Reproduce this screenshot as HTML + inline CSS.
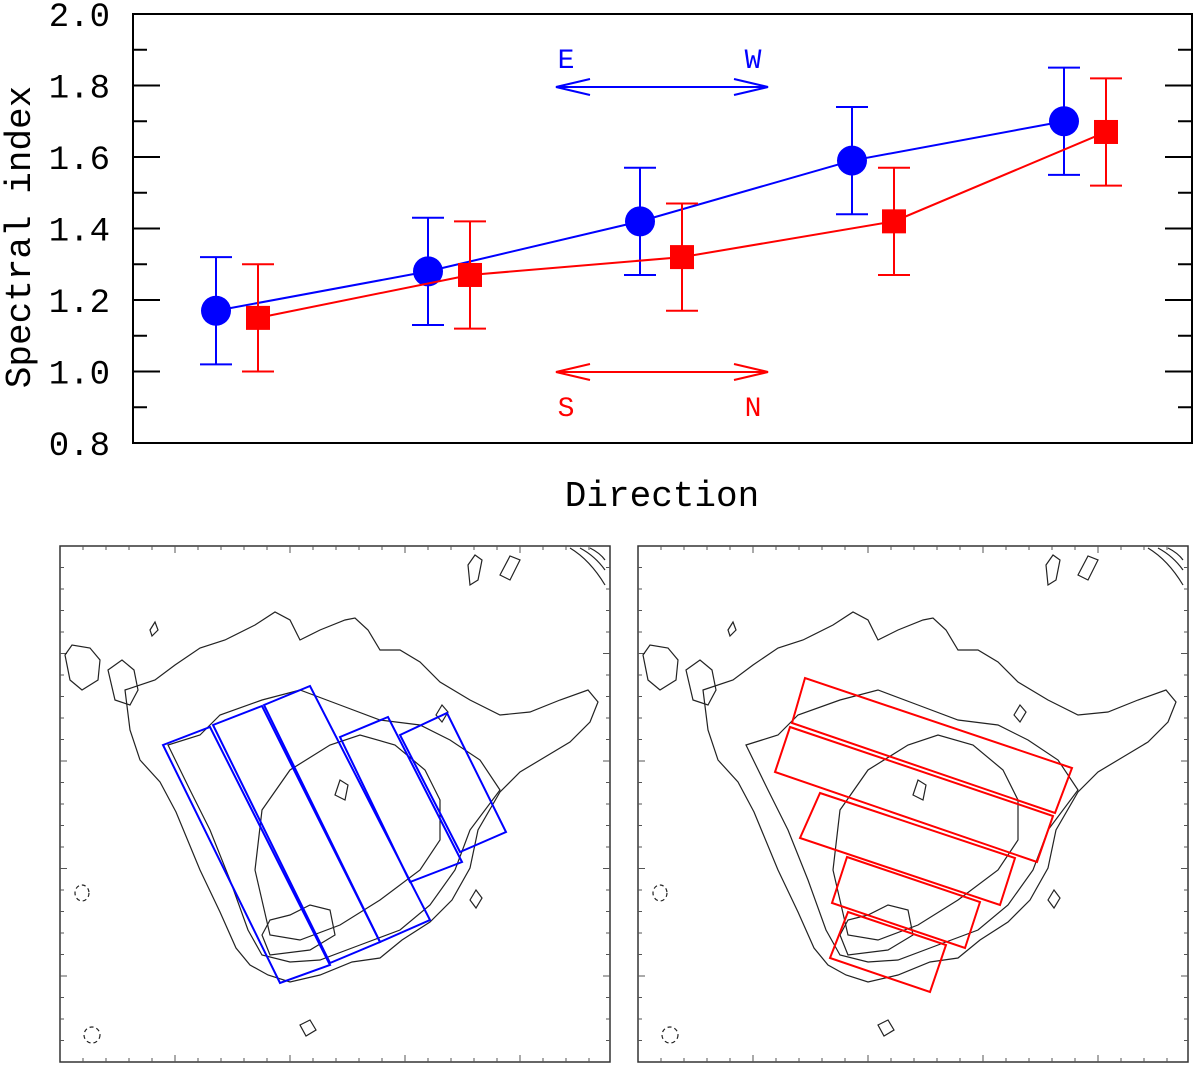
<!DOCTYPE html>
<html><head><meta charset="utf-8"><style>
html,body{margin:0;padding:0;background:#fff;}
svg{display:block;}
</style></head><body>
<svg id="chart" width="1200" height="1069" viewBox="0 0 1200 1069" xmlns="http://www.w3.org/2000/svg">
<g id="topChart"></g>
<g id="bottomPanels"></g>
</svg>
<script>
const categories = ["1","2","3","4","5"];
const blueValues = [1.17,1.28,1.42,1.59,1.70];
const blueErrors = [0.15,0.15,0.15,0.15,0.15];
const redValues = [1.15,1.27,1.32,1.42,1.67];
const redErrors = [0.15,0.15,0.15,0.15,0.15];
const yTicks = ["0.8","1.0","1.2","1.4","1.6","1.8","2.0"];

const NS="http://www.w3.org/2000/svg";
const X0=133,X1=1192,Y0=14,Y1=443,YMIN=0.8,YMAX=2.0;
const FONT='Liberation Mono, monospace';
function yScale(v){return Y1-(v-YMIN)/(YMAX-YMIN)*(Y1-Y0);}
function xScale(i,off){return 216+i*212+off;}
function el(tag,attrs,parent){const e=document.createElementNS(NS,tag);for(const k in attrs)e.setAttribute(k,attrs[k]);parent.appendChild(e);return e;}
const topG=document.getElementById('topChart');

const frame=el('rect',{x:X0,y:Y0,width:X1-X0,height:Y1-Y0,fill:'none',stroke:'#000','stroke-width':2},topG);


for(let k=0;k<=12;k++){
  const v=0.8+k*0.1;
  const y=yScale(v);const major=k%2===0;const L=major?27:14;
  const t1=el('line',{x1:X0,x2:X0+L,y1:y,y2:y,stroke:'#000','stroke-width':2},topG);
  
  
  const t2=el('line',{x1:X1-L,x2:X1,y1:y,y2:y,stroke:'#000','stroke-width':2},topG);
  
  
}
yTicks.forEach(t=>{
  const tx=el('text',{x:110,y:yScale(parseFloat(t))+12,'text-anchor':'end','font-family':FONT,'font-size':34},topG);
  tx.textContent=t;
  
  
});
const yl=el('text',{x:0,y:0,transform:'translate(30,237) rotate(-90)','text-anchor':'middle','font-family':FONT,'font-size':36},topG);
yl.textContent='Spectral index';


const xl=el('text',{x:662,y:506,'text-anchor':'middle','font-family':FONT,'font-size':36},topG);
xl.textContent='Direction';



function series(vals,errs,off,color,shape,name){
  const pts=vals.map((v,i)=>xScale(i,off)+','+yScale(v)).join(' ');
  const pl=el('polyline',{points:pts,fill:'none',stroke:color,'stroke-width':2},topG);
  
  
  vals.forEach((v,i)=>{
    const x=xScale(i,off),yt=yScale(v+errs[i]),yb=yScale(v-errs[i]);
    const g=el('g',{},topG);
    
    
    el('line',{x1:x,x2:x,y1:yt,y2:yb,stroke:color,'stroke-width':2},g);
    el('line',{x1:x-16,x2:x+16,y1:yt,y2:yt,stroke:color,'stroke-width':2},g);
    el('line',{x1:x-16,x2:x+16,y1:yb,y2:yb,stroke:color,'stroke-width':2},g);
    let m;
    if(shape==='circle') m=el('circle',{cx:x,cy:yScale(v),r:15,fill:color},topG);
    else m=el('rect',{x:x-12,y:yScale(v)-12,width:24,height:24,fill:color},topG);
    
    
  });
}
series(blueValues,blueErrors,0,'#0000ff','circle','blue-series');
series(redValues,redErrors,42,'#ff0000','square','red-series');

function arrow(y,color,name){
  const g=el('g',{fill:'none',stroke:color,'stroke-width':2},topG);
  
  
  el('line',{x1:556,x2:768,y1:y,y2:y},g);
  el('polyline',{points:`590,${y-8} 556,${y} 590,${y+8}`},g);
  el('polyline',{points:`734,${y-8} 768,${y} 734,${y+8}`},g);
}
arrow(87,'#0000ff','ew-arrow');
arrow(372,'#ff0000','sn-arrow');
[['E',566,68,'#0000ff'],['W',753,68,'#0000ff'],['S',566,416,'#ff0000'],['N',753,416,'#ff0000']].forEach(d=>{
  const t=el('text',{x:d[1],y:d[2],'text-anchor':'middle','font-family':FONT,'font-size':28,fill:d[3]},topG);
  t.textContent=d[0];
  
  
});

const bottomG=document.getElementById('bottomPanels');
const contourPaths=[
 "M125,690 L155,680 175,665 200,648 225,640 255,625 275,612 290,620 300,640 320,630 345,620 355,618 368,630 380,650 400,650 420,662 440,682 470,700 500,715 530,712 560,700 588,690 598,702 590,722 570,742 540,760 520,772 500,792 478,830 470,868 452,900 430,922 402,940 380,958 352,962 320,975 290,982 268,975 250,965 236,948 220,912 200,870 176,812 160,782 140,760 130,730 Z",
 "M168,745 L200,735 220,715 262,700 300,690 340,705 380,720 420,725 450,740 480,760 500,790 470,830 455,870 430,905 400,930 360,945 320,960 290,962 262,955 248,930 230,880 210,830 190,790 Z",
 "M255,870 L262,810 290,770 330,745 360,735 395,745 425,770 440,800 440,840 420,870 380,900 340,925 300,940 270,935 Z",
 "M270,955 L262,935 270,920 290,915 310,905 330,910 335,935 310,950 Z",
 "M65,655 L72,645 90,648 100,660 98,680 82,690 70,680 Z",
 "M108,670 L122,660 134,670 138,690 130,705 115,700 Z",
 "M468,565 L475,555 482,560 478,580 470,585 Z",
 "M500,575 L510,556 520,560 510,580 Z",
 "M150,630 L155,622 158,630 152,636 Z",
 "M335,795 L340,780 348,785 345,800 Z",
 "M436,715 L442,705 448,712 442,722 Z",
 "M470,900 L476,890 482,898 476,908 Z",
 "M300,1025 L310,1020 316,1030 306,1036 Z"
];
function panel(ox,name){
  const g=el('g',{},bottomG);
  
  
  const r=el('rect',{x:ox+60,y:546,width:550,height:516,fill:'none',stroke:'#333','stroke-width':1.5},g);
  
  
  for(let i=1;i<24;i++){
    const x=ox+60+i*23,y=546+i*21.5,L=(i%5===0)?7:4;
    el('line',{x1:x,x2:x,y1:1062,y2:1062-L,stroke:'#555'},g);
    el('line',{x1:x,x2:x,y1:546,y2:546+L,stroke:'#555'},g);
    el('line',{x1:ox+60,x2:ox+60+L,y1:y,y2:y,stroke:'#555'},g);
    el('line',{x1:ox+610,x2:ox+610-L,y1:y,y2:y,stroke:'#555'},g);
  }
  const cg=el('g',{transform:`translate(${ox},0)`,fill:'none',stroke:'#222','stroke-width':1.2},g);
  
  
  contourPaths.forEach(d=>el('path',{d:d},cg));
  el('ellipse',{cx:82,cy:893,rx:7,ry:8,'stroke-dasharray':'4,3'},cg);
  el('ellipse',{cx:92,cy:1035,rx:8,ry:8,'stroke-dasharray':'4,3'},cg);
  el('path',{d:"M570,548 Q590,560 605,585 M580,548 Q595,556 605,570 M590,548 Q600,553 605,560"},cg);
  return g;
}
panel(0,'left-panel');
panel(578,'right-panel');
const blueBoxes=[[[163,745],[210,727],[330,965],[280,983]],[[213,725],[262,706],[380,942],[330,963]],[[264,705],[310,686],[430,920],[380,942]],[[340,737],[388,717],[462,862],[410,882]],[[400,735],[447,713],[506,832],[460,852]]];
const redBoxes=[[[792,723],[805,678],[1072,768],[1055,813]],[[790,727],[1053,816],[1037,862],[775,772]],[[820,793],[1015,858],[1000,905],[800,838]],[[847,857],[980,902],[965,948],[832,903]],[[848,912],[946,945],[930,992],[830,958]]];
blueBoxes.forEach(b=>{
  const p=el('polygon',{points:b.map(q=>q.join(',')).join(' '),fill:'none',stroke:'#0000ff','stroke-width':2},bottomG);
  
  
});
redBoxes.forEach(b=>{
  const p=el('polygon',{points:b.map(q=>q.join(',')).join(' '),fill:'none',stroke:'#ff0000','stroke-width':2},bottomG);
  
  
});
</script>
</body></html>
